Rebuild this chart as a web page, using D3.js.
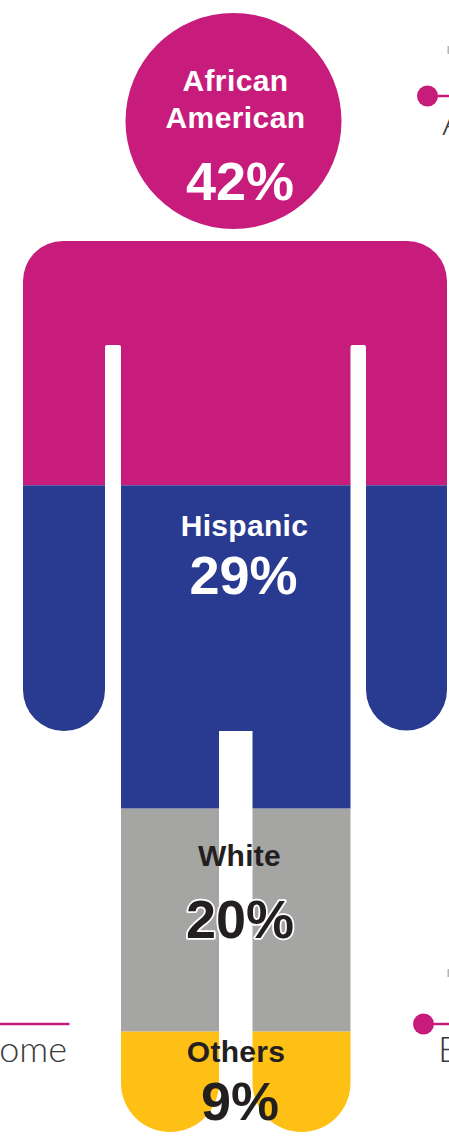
<!DOCTYPE html>
<html>
<head>
<meta charset="utf-8">
<script src="https://cdnjs.cloudflare.com/ajax/libs/d3/7.8.5/d3.min.js"></script>
<style>
html,body{margin:0;padding:0;background:#fff;overflow:hidden}
svg{display:block}
text{font-family:"Liberation Sans",Arial,sans-serif;font-weight:700}
.side{font-family:Lato,sans-serif;font-weight:300;fill:#3a3a3a}
</style>
</head>
<body>
<svg id="chart" width="449" height="1139"></svg>
<script>
// Share of each group, stacked from the top of the figure to its feet
const groups = ["African American", "Hispanic", "White", "Others"];
const shares = [42, 29, 20, 9];
const fills = ["#c71c7c", "#293b90", "#a5a5a4", "#fec014"];

const svg = d3.select("#chart");
const y = d3.scaleLinear().domain([0, 100]).range([17, 1132]);

// Outline of the figure, used as a clip for the stacked bands
function figurePath() {
  const p = d3.path();
  // head
  p.moveTo(233.5 + 108, 121);
  p.arc(233.5, 121, 108, 0, Math.PI * 2);
  p.closePath();
  // shoulders, arms and torso
  const armBottom = 731, armR = 41, legR = 49, feet = 1132;
  p.moveTo(63, 241);
  p.lineTo(407, 241);
  p.arcTo(447, 241, 447, 281, 40);
  p.lineTo(447, armBottom - armR);
  p.arc(406.5, armBottom - armR, 40.5, 0, Math.PI);
  p.lineTo(366, 347);
  p.arcTo(366, 345, 364, 345, 2);
  p.lineTo(352.5, 345);
  p.arcTo(350.5, 345, 350.5, 347, 2);
  // right leg
  p.lineTo(350.5, feet - legR);
  p.arc(301.5, feet - legR, 49, 0, Math.PI);
  p.lineTo(252.5, armBottom);
  p.lineTo(219, armBottom);
  // left leg
  p.lineTo(219, feet - legR);
  p.arc(170, feet - legR, 49, 0, Math.PI);
  p.lineTo(121, 347);
  p.arcTo(121, 345, 119, 345, 2);
  p.lineTo(107, 345);
  p.arcTo(105, 345, 105, 347, 2);
  // left arm
  p.lineTo(105, armBottom - armR);
  p.arc(64, armBottom - armR, 41, 0, Math.PI);
  p.lineTo(23, 281);
  p.arcTo(23, 241, 63, 241, 40);
  p.closePath();
  return p.toString();
}

svg.append("clipPath").attr("id", "figure")
  .append("path").attr("d", figurePath());

// Cumulative offsets for the stacked bands; the first band runs up over the crown of the head
const stack = d3.cumsum(shares);
const bandTop = i => (i ? y(stack[i - 1]) : 0);
svg.append("g").attr("clip-path", "url(#figure)")
  .selectAll("rect").data(groups).join("rect")
  .attr("x", 0).attr("width", 449)
  .attr("y", (d, i) => bandTop(i))
  .attr("height", (d, i) => y(stack[i]) - bandTop(i))
  .attr("fill", (d, i) => fills[i]);

// Labels inside the figure
const labels = [
  { t: ["African", "American"], tx: 235.5, ty: [91, 128], px: 240, py: 200, c: "#fff", ls: 0.4 },
  { t: ["Hispanic"], tx: 244.5, ty: [536], px: 243.5, py: 594, c: "#fff", ls: 0.3 },
  { t: ["White"], tx: 239.5, ty: [866], px: 240, py: 938, c: "#231f20", ls: 0.3, halo: true },
  { t: ["Others"], tx: 236, ty: [1062], px: 240, py: 1120, c: "#231f20", ls: 0.3 }
];
labels.forEach((l, i) => {
  l.t.forEach((line, j) => {
    svg.append("text").attr("x", l.tx).attr("y", l.ty[j])
      .attr("text-anchor", "middle").attr("font-size", 30)
      .attr("letter-spacing", l.ls).attr("fill", l.c).text(line);
  });
  const pct = svg.append("text").attr("x", l.px).attr("y", l.py)
    .attr("text-anchor", "middle").attr("font-size", 54)
    .attr("fill", l.c).text(shares[i] + "%");
  if (l.halo) pct.attr("stroke", "#fff").attr("stroke-width", 3.5)
    .attr("paint-order", "stroke").attr("stroke-linejoin", "round");
});

// Callouts running in from the neighbouring panels
const accent = "#c71c7c";
const callouts = [
  { cx: 427.5, cy: 96, r: 10.5, x1: 427.5, x2: 449 },
  { cx: 423.5, cy: 1024, r: 10.5, x1: 423.5, x2: 449 }
];
svg.selectAll("line.call").data(callouts).join("line").attr("class", "call")
  .attr("x1", d => d.x1).attr("x2", d => d.x2)
  .attr("y1", d => d.cy).attr("y2", d => d.cy)
  .attr("stroke", accent).attr("stroke-width", 2.5);
svg.selectAll("circle.call").data(callouts).join("circle").attr("class", "call")
  .attr("cx", d => d.cx).attr("cy", d => d.cy).attr("r", d => d.r)
  .attr("fill", accent);
svg.append("line").attr("x1", 0).attr("x2", 69.5)
  .attr("y1", 1024).attr("y2", 1024)
  .attr("stroke", accent).attr("stroke-width", 2.5);

svg.append("text").attr("class", "side").attr("x", 67).attr("y", 1062)
  .attr("text-anchor", "end").attr("font-size", 36).text("ome");
svg.append("text").attr("class", "side").attr("x", 442).attr("y", 135)
  .attr("font-size", 36).text("A");
svg.append("text").attr("class", "side").attr("x", 438).attr("y", 1062)
  .attr("font-size", 36).text("E");

// Small grey marks at the right edge
[50, 973].forEach(v => svg.append("rect").attr("x", 447.5).attr("y", v - 4)
  .attr("width", 1.5).attr("height", 8).attr("fill", "#b5b5b5"));
</script>
</body>
</html>
